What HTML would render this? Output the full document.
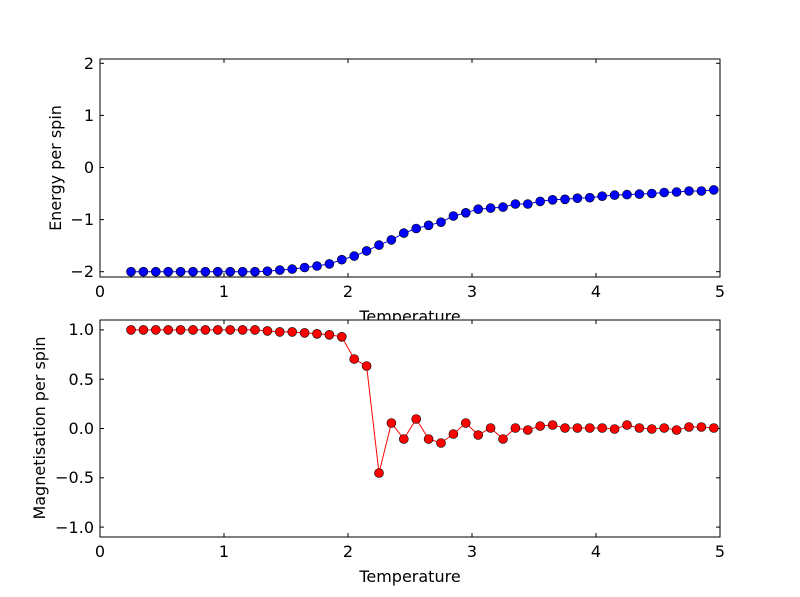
<!DOCTYPE html>
<html><head><style>body{margin:0;background:#fff}svg{display:block}</style></head><body>
<svg width="800" height="597" xmlns="http://www.w3.org/2000/svg" font-family="DejaVu Sans, Liberation Sans, sans-serif" font-size="16">
<rect width="800" height="597" fill="#fff"/>
<rect x="100" y="59" width="620" height="218" fill="#fff" stroke="#000"/>
<g stroke="#000">
<line x1="224" y1="277" x2="224" y2="273"/><line x1="348" y1="277" x2="348" y2="273"/><line x1="472" y1="277" x2="472" y2="273"/><line x1="596" y1="277" x2="596" y2="273"/>
<line x1="224" y1="59" x2="224" y2="63"/><line x1="348" y1="59" x2="348" y2="63"/><line x1="472" y1="59" x2="472" y2="63"/><line x1="596" y1="59" x2="596" y2="63"/>
<line x1="100" y1="271.7" x2="104" y2="271.7"/><line x1="100" y1="219.6" x2="104" y2="219.6"/><line x1="100" y1="167.5" x2="104" y2="167.5"/><line x1="100" y1="115.4" x2="104" y2="115.4"/><line x1="100" y1="63.3" x2="104" y2="63.3"/>
<line x1="720" y1="271.7" x2="716" y2="271.7"/><line x1="720" y1="219.6" x2="716" y2="219.6"/><line x1="720" y1="167.5" x2="716" y2="167.5"/><line x1="720" y1="115.4" x2="716" y2="115.4"/><line x1="720" y1="63.3" x2="716" y2="63.3"/>
</g>
<g text-anchor="end">
<text x="94" y="277">−2</text><text x="94" y="225">−1</text><text x="94" y="173">0</text><text x="94" y="121">1</text><text x="94" y="69">2</text>
</g>
<g text-anchor="middle">
<text x="100" y="297">0</text><text x="224" y="297">1</text><text x="348" y="297">2</text><text x="472" y="297">3</text><text x="596" y="297">4</text><text x="720" y="297">5</text>
<text x="410" y="322">Temperature</text>
</g>
<text transform="translate(61,168) rotate(-90)" text-anchor="middle">Energy per spin</text>
<polyline fill="none" stroke="#0000ff" stroke-width="1" points="131,271.7 143.4,271.7 155.8,271.7 168.2,271.7 180.6,271.7 193,271.7 205.4,271.7 217.8,271.7 230.2,271.7 242.6,271.7 255,271.7 267.4,271.2 279.8,270.1 292.2,269.1 304.6,267.5 317,266 329.4,263.9 341.8,259.7 354.2,256.1 366.6,250.9 379,245.1 391.4,239.9 403.8,233.1 416.2,228.5 428.6,225.3 441,222.2 453.4,216 465.8,212.8 478.2,209.2 490.6,208.1 503,207.1 515.4,204 527.8,204 540.2,201.4 552.6,199.8 565,199.3 577.4,198.2 589.8,197.7 602.2,196.2 614.6,195.1 627,194.6 639.4,194.1 651.8,193.5 664.2,192.5 676.6,192 689,191 701.4,191 713.8,189.9"/>
<rect x="100" y="320" width="620" height="217" fill="#fff" stroke="#000"/>
<g stroke="#000">
<line x1="224" y1="537" x2="224" y2="533"/><line x1="348" y1="537" x2="348" y2="533"/><line x1="472" y1="537" x2="472" y2="533"/><line x1="596" y1="537" x2="596" y2="533"/>
<line x1="224" y1="320" x2="224" y2="324"/><line x1="348" y1="320" x2="348" y2="324"/><line x1="472" y1="320" x2="472" y2="324"/><line x1="596" y1="320" x2="596" y2="324"/>
<line x1="100" y1="527.1" x2="104" y2="527.1"/><line x1="100" y1="477.8" x2="104" y2="477.8"/><line x1="100" y1="428.5" x2="104" y2="428.5"/><line x1="100" y1="379.2" x2="104" y2="379.2"/><line x1="100" y1="329.9" x2="104" y2="329.9"/>
<line x1="720" y1="527.1" x2="716" y2="527.1"/><line x1="720" y1="477.8" x2="716" y2="477.8"/><line x1="720" y1="428.5" x2="716" y2="428.5"/><line x1="720" y1="379.2" x2="716" y2="379.2"/><line x1="720" y1="329.9" x2="716" y2="329.9"/>
</g>
<g text-anchor="end">
<text x="94" y="533">−1.0</text><text x="94" y="483">−0.5</text><text x="94" y="434">0.0</text><text x="94" y="385">0.5</text><text x="94" y="335">1.0</text>
</g>
<g text-anchor="middle">
<text x="100" y="557">0</text><text x="224" y="557">1</text><text x="348" y="557">2</text><text x="472" y="557">3</text><text x="596" y="557">4</text><text x="720" y="557">5</text>
<text x="410" y="582">Temperature</text>
</g>
<text transform="translate(45,428) rotate(-90)" text-anchor="middle">Magnetisation per spin</text>
<polyline fill="none" stroke="#ff0000" stroke-width="1" points="131,329.9 143.4,329.9 155.8,329.9 168.2,329.9 180.6,329.9 193,329.9 205.4,329.9 217.8,329.9 230.2,329.9 242.6,329.9 255,329.9 267.4,330.9 279.8,331.9 292.2,331.9 304.6,332.9 317,333.8 329.4,334.8 341.8,336.8 354.2,359 366.6,366 379,473 391.4,423 403.8,439 416.2,419 428.6,439 441,443 453.4,434 465.8,423 478.2,435 490.6,428 503,439 515.4,428 527.8,430 540.2,426 552.6,425 565,428 577.4,428 589.8,428 602.2,428 614.6,429 627,425 639.4,428 651.8,429 664.2,428 676.6,430 689,427 701.4,427 713.8,428"/>
<script>
(function(){
var ns="http://www.w3.org/2000/svg",svg=document.querySelector("svg");
var pl=document.querySelectorAll("polyline");
var cols=["#0000ff","#ff0000"];
for(var k=0;k<2;k++){var pts=pl[k].getAttribute("points").trim().split(/\s+/);
 pts.forEach(function(p){var a=p.split(",");var c=document.createElementNS(ns,"circle");
 c.setAttribute("cx",a[0]);c.setAttribute("cy",a[1]);c.setAttribute("r","4.5");
 c.setAttribute("fill",cols[k]);c.setAttribute("stroke","#000");c.setAttribute("stroke-width","0.6");svg.appendChild(c);});}
})();
</script>
</svg>
</body></html>
